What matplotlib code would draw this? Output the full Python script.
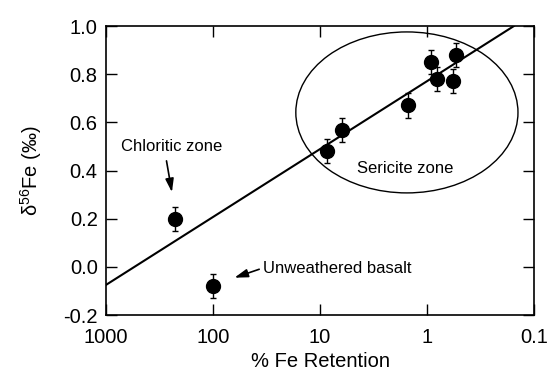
import matplotlib
matplotlib.use("Agg")
import matplotlib.pyplot as plt
from matplotlib.patches import Ellipse

plt.rcParams['font.family'] = ['Liberation Sans', 'DejaVu Sans']

# data
retention = [226, 100, 8.65, 6.2, 1.51, 0.92, 0.81, 0.57, 0.54]
d56fe = [0.20, -0.08, 0.48, 0.57, 0.67, 0.85, 0.78, 0.77, 0.88]
d56fe_err = [0.05, 0.05, 0.05, 0.05, 0.05, 0.05, 0.05, 0.05, 0.05]

# regression line end points
line_x = [1000, 0.154]
line_y = [-0.075, 1.0]

x_ticks = [1000, 100, 10, 1, 0.1]
x_ticklabels = ["1000", "100", "10", "1", "0.1"]
y_ticks = [-0.2, 0.0, 0.2, 0.4, 0.6, 0.8, 1.0]

fig = plt.figure(figsize=(5.48, 3.71), dpi=100)
ax = fig.add_axes([0.1934, 0.1509, 0.7811, 0.779])

ax.plot(line_x, line_y, color='k', lw=1.5)
ax.errorbar(retention, d56fe, yerr=d56fe_err, fmt='o', color='k', ms=10,
            ecolor='k', elinewidth=1, capsize=2.5, capthick=1)

ax.add_patch(Ellipse((0.703, 0.701), 0.519, 0.557, transform=ax.transAxes,
                     fill=False, edgecolor='k', lw=1))

arrow = dict(arrowstyle='-|>,head_length=0.8,head_width=0.25', color='k',
             lw=1.2, shrinkA=0, shrinkB=0)

ax.text(1.6, 0.41, "Sericite zone", fontsize=12, ha='center', va='center')
ax.annotate("", xy=(242, 0.31), xytext=(272, 0.44), arrowprops=arrow)
ax.text(242, 0.498, "Chloritic zone", fontsize=12, ha='center', va='center')
ax.annotate("", xy=(63, -0.045), xytext=(37, -0.01), arrowprops=arrow)
ax.text(34.1, -0.005, "Unweathered basalt", fontsize=12, ha='left', va='center')

ax.set_xscale('log')
ax.set_xlim(1000, 0.1)
ax.set_ylim(-0.2, 1.0)
ax.set_xticks(x_ticks)
ax.set_xticklabels(x_ticklabels)
ax.minorticks_off()
ax.set_yticks(y_ticks)
ax.set_yticklabels(["%.1f" % v for v in y_ticks])
ax.tick_params(direction='in', length=8, width=1, top=True, right=True,
               labelsize=14.5, pad=6)
ax.tick_params(axis='x', pad=9)
for s in ax.spines.values():
    s.set_linewidth(1.2)

ax.set_xlabel("% Fe Retention", fontsize=14.5, labelpad=4)
ax.set_ylabel("δ$^{\\mathregular{56}}$Fe (‰)", fontsize=14.5, labelpad=14)

fig.savefig("out.png", dpi=100)
